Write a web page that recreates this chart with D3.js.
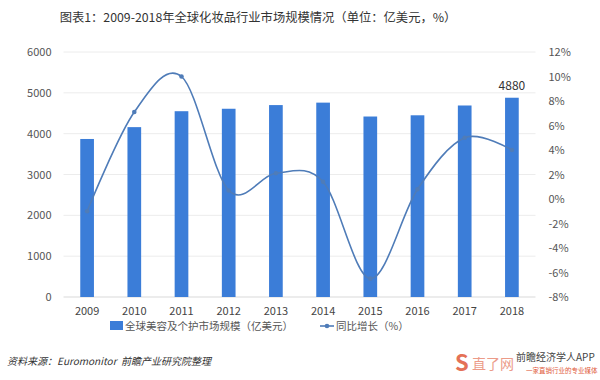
<!DOCTYPE html>
<html><head><meta charset="utf-8">
<script src="https://cdn.jsdelivr.net/npm/d3@7/dist/d3.min.js"></script>
<style>body{margin:0;background:#fff}svg{display:block}</style>
</head><body><svg id="c" width="600" height="380"></svg>
<script>
const years = ["2009","2010","2011","2012","2013","2014","2015","2016","2017","2018"];
const marketSize = [3870,4160,4550,4610,4700,4760,4420,4450,4690,4880];
const growth = [-1.0,7.1,10.0,0.7,2.1,1.4,-6.5,0.8,5.0,4.0];
const leftTicks = [0,1000,2000,3000,4000,5000,6000];
const rightTicks = [-8,-6,-4,-2,0,2,4,6,8,10,12];
const titleText = "图表1：2009-2018年全球化妆品行业市场规模情况（单位：亿美元，%）";
const legendBar = "全球美容及个护市场规模（亿美元）";
const legendLine = "同比增长（%）";
const sourceText = "资料来源：Euromonitor\u00a0\u00a0前瞻产业研究院整理";

(function(){
const svg = d3.select("#c");
const font = "'Noto Sans CJK SC', 'Noto Sans', sans-serif";
const pTop = 52, pBottom = 297, pLeft = 63.5, pRight = 535.5;

const x = d3.scaleBand().domain(years).range([pLeft, pRight]).paddingInner(0.71).paddingOuter(0.355);
const y = d3.scaleLinear().domain([0,6000]).range([pBottom, pTop]);
const y2 = d3.scaleLinear().domain([-8,12]).range([pBottom, pTop]);

svg.append("text").attr("x",258).attr("y",22).attr("text-anchor","middle")
  .attr("font-family",font).attr("font-size",12.3).attr("fill","#333").text(titleText);

svg.append("g").selectAll("line").data(leftTicks).join("line")
  .attr("x1",pLeft).attr("x2",pRight).attr("y1",d=>y(d)).attr("y2",d=>y(d))
  .attr("stroke",d=>d===0?"#d9d9d9":"#ececec").attr("stroke-width",1);

const ga = svg.append("g").attr("transform",`translate(${pLeft-12},0)`)
  .call(d3.axisLeft(y).tickValues(leftTicks).tickSize(0).tickPadding(0).tickFormat(d3.format("d")));
ga.select(".domain").remove();
ga.selectAll("text").attr("font-family",font).attr("font-size",11).attr("fill","#555");

const gr = svg.append("g").attr("transform",`translate(${pRight+13},0)`)
  .call(d3.axisRight(y2).tickValues(rightTicks).tickSize(0).tickPadding(0).tickFormat(d=>d+"%"));
gr.select(".domain").remove();
gr.selectAll("text").attr("font-family",font).attr("font-size",11).attr("fill","#555");

const gx = svg.append("g").attr("transform",`translate(0,${pBottom+10})`)
  .call(d3.axisBottom(x).tickSize(0).tickPadding(0));
gx.select(".domain").remove();
gx.selectAll("text").attr("font-family",font).attr("font-size",11).attr("fill","#444").attr("dy","0.71em");

svg.append("g").selectAll("rect").data(years).join("rect")
  .attr("x",d=>x(d)).attr("width",x.bandwidth())
  .attr("y",(d,i)=>y(marketSize[i])).attr("height",(d,i)=>pBottom-y(marketSize[i]))
  .attr("fill","#3b7dd8");

svg.append("text").attr("x",x("2018")+x.bandwidth()/2).attr("y",y(4880)-8)
  .attr("text-anchor","middle").attr("font-family",font).attr("font-size",12).attr("fill","#333").text("4880");

const pts = years.map((d,i)=>[x(d)+x.bandwidth()/2, y2(growth[i])]);
svg.append("path").attr("d",d3.line().curve(d3.curveCardinal.tension(0))(pts))
  .attr("fill","none").attr("stroke","#4f7cb8").attr("stroke-width",1.6);
svg.append("g").selectAll("circle").data(pts).join("circle")
  .attr("cx",d=>d[0]).attr("cy",d=>d[1]).attr("r",2.3).attr("fill","#4f7cb8");

const lg = svg.append("g");
lg.append("rect").attr("x",110).attr("y",321).attr("width",13).attr("height",9).attr("fill","#3b7dd8");
lg.append("text").attr("x",125).attr("y",330).attr("font-family",font).attr("font-size",10.5).attr("fill","#555").text(legendBar);
lg.append("line").attr("x1",320).attr("x2",334).attr("y1",326).attr("y2",326).attr("stroke","#4f7cb8").attr("stroke-width",1.6);
lg.append("circle").attr("cx",327).attr("cy",326).attr("r",2.3).attr("fill","#4f7cb8");
lg.append("text").attr("x",336).attr("y",330).attr("font-family",font).attr("font-size",10.5).attr("fill","#555").text(legendLine);

svg.append("text").attr("x",7).attr("y",365).attr("font-family",font).attr("font-size",10)
  .attr("font-style","italic").attr("fill","#333").text(sourceText);

const wm = svg.append("g");
wm.append("text").attr("x",455).attr("y",371).attr("font-family",font).attr("font-size",22).attr("font-weight","bold")
  .attr("fill","#e0593a").attr("opacity",0.85).text("S");
wm.append("text").attr("x",472).attr("y",369).attr("font-family",font).attr("font-size",14)
  .attr("fill","#e0593a").attr("opacity",0.6).text("直了网");
wm.append("text").attr("x",516).attr("y",361).attr("font-family",font).attr("font-size",10)
  .attr("fill","#444").text("前瞻经济学人APP");
wm.append("text").attr("x",526).attr("y",373).attr("font-family",font).attr("font-size",6.5)
  .attr("fill","#e0593a").text("一家直销行业的专业媒体");
})();
</script></body></html>
